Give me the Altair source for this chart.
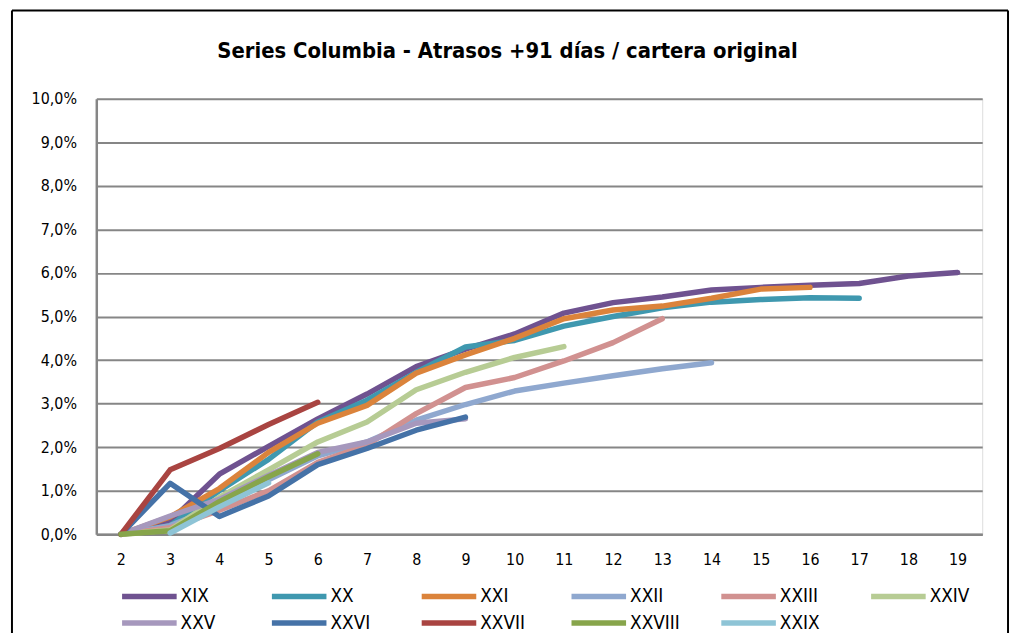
import altair as alt
import pandas as pd

# ---- data (percent of original portfolio, 91+ days delinquent) ----
series = ["XIX", "XX", "XXI", "XXII", "XXIII", "XXIV", "XXV", "XXVI", "XXVII", "XXVIII", "XXIX"]
colors = ["#6F5290", "#3F98AF", "#DB833B", "#8FA8CF", "#D19190", "#B7CC94",
          "#A698BD", "#4572A7", "#A94441", "#87A54B", "#8EC4D6"]

XIX = [0.0, 0.30, 1.38, 2.02, 2.65, 3.22, 3.85, 4.25, 4.60, 5.08, 5.32, 5.45, 5.61, 5.67, 5.72, 5.76, 5.93, 6.01]
XX = [0.0, 0.20, 1.00, 1.72, 2.58, 3.08, 3.72, 4.30, 4.45, 4.78, 5.00, 5.20, 5.33, 5.39, 5.43, 5.42]
XXI = [0.0, 0.40, 1.05, 1.88, 2.55, 2.96, 3.70, 4.12, 4.50, 4.95, 5.15, 5.24, 5.42, 5.63, 5.67]
XXII = [0.0, 0.20, 0.65, 1.25, 1.80, 2.12, 2.62, 2.98, 3.29, 3.47, 3.64, 3.80, 3.94]
XXIII = [0.0, 0.15, 0.55, 1.00, 1.65, 2.05, 2.77, 3.37, 3.60, 3.98, 4.40, 4.95]
XXIV = [0.0, 0.10, 0.85, 1.48, 2.12, 2.58, 3.32, 3.72, 4.06, 4.31]
XXV = [0.0, 0.42, 0.80, 1.35, 1.88, 2.12, 2.55, 2.65]
XXVI = [0.0, 1.17, 0.41, 0.88, 1.60, 1.97, 2.39, 2.69]
XXVII = [0.0, 1.48, 1.97, 2.52, 3.03]
XXVIII = [0.0, 0.08, 0.75, 1.32, 1.85]
XXIX = [0.03, 0.63, 1.18]

starts = {"XIX": 2, "XX": 2, "XXI": 2, "XXII": 2, "XXIII": 2, "XXIV": 2, "XXV": 2,
          "XXVI": 2, "XXVII": 2, "XXVIII": 2, "XXIX": 3}
values = {"XIX": XIX, "XX": XX, "XXI": XXI, "XXII": XXII, "XXIII": XXIII, "XXIV": XXIV,
          "XXV": XXV, "XXVI": XXVI, "XXVII": XXVII, "XXVIII": XXVIII, "XXIX": XXIX}

months = list(range(2, 20))
y_ticks = [0, 1, 2, 3, 4, 5, 6, 7, 8, 9, 10]

rows = []
for s in series:
    for i, v in enumerate(values[s]):
        rows.append({"serie": s, "mes": starts[s] + i, "valor": v})
df = pd.DataFrame(rows)

AXIS_FONT = "DejaVu Sans Condensed"

lines = alt.Chart(df).mark_line(strokeWidth=5.5, strokeCap="round", strokeJoin="round").encode(
    x=alt.X("mes:O", sort=months,
            scale=alt.Scale(domain=months, padding=0.5),
            axis=alt.Axis(title=None, labelAngle=0, ticks=False, grid=False,
                          domainColor="#868686", domainWidth=2.5,
                          labelFont=AXIS_FONT, labelFontSize=16, labelColor="#000",
                          labelPadding=17)),
    y=alt.Y("valor:Q",
            scale=alt.Scale(domain=[0, 10], nice=False),
            axis=alt.Axis(title=None, values=y_ticks, ticks=False,
                          labelExpr="replace(format(datum.value, '.1f'), '.', ',') + '%'",
                          gridColor="#868686", gridWidth=2,
                          domainColor="#868686", domainWidth=2.5,
                          labelFont=AXIS_FONT, labelFontSize=16, labelColor="#000",
                          labelPadding=20)),
    color=alt.Color("serie:N", sort=series,
                    scale=alt.Scale(domain=series, range=colors),
                    legend=alt.Legend(title=None, orient="none", legendX=44, legendY=492,
                                      columns=6, direction="horizontal",
                                      gridAlign="all", columnPadding=30, rowPadding=4,
                                      symbolType="M-5,0H5", symbolSize=121,
                                      symbolStrokeWidth=5.5, labelOffset=22,
                                      labelFont=AXIS_FONT, labelFontSize=19,
                                      labelColor="#000", padding=0)),
    detail="serie:N",
)

frame_df = pd.DataFrame({"k": ["left", "top", "right"]})
frame_left = alt.Chart(frame_df).transform_filter("datum.k == 'left'").mark_rule(
    color="#000", strokeWidth=2).encode(x=alt.value(-85), y=alt.value(-89), y2=alt.value(560))
frame_top = alt.Chart(frame_df).transform_filter("datum.k == 'top'").mark_rule(
    color="#000", strokeWidth=2).encode(x=alt.value(-85), x2=alt.value(919), y=alt.value(-89))
frame_right = alt.Chart(frame_df).transform_filter("datum.k == 'right'").mark_rule(
    color="#000", strokeWidth=2).encode(x=alt.value(919), y=alt.value(-89), y2=alt.value(560))

chart = alt.layer(lines, frame_left, frame_top, frame_right).properties(
    width=893, height=439,
    title=alt.TitleParams("Series Columbia - Atrasos +91 días / cartera original",
                          font=AXIS_FONT, fontSize=22, fontWeight="bold", color="#000",
                          anchor="middle", frame="group", dx=-32, offset=-54),
    autosize=alt.AutoSizeParams(type="none"),
    padding={"left": 89, "top": 89, "right": 28, "bottom": 97},
).configure_view(stroke="#333", strokeWidth=1.5).configure(background="white")

chart.save("out.html", embed_options={"renderer": "svg", "actions": False})
